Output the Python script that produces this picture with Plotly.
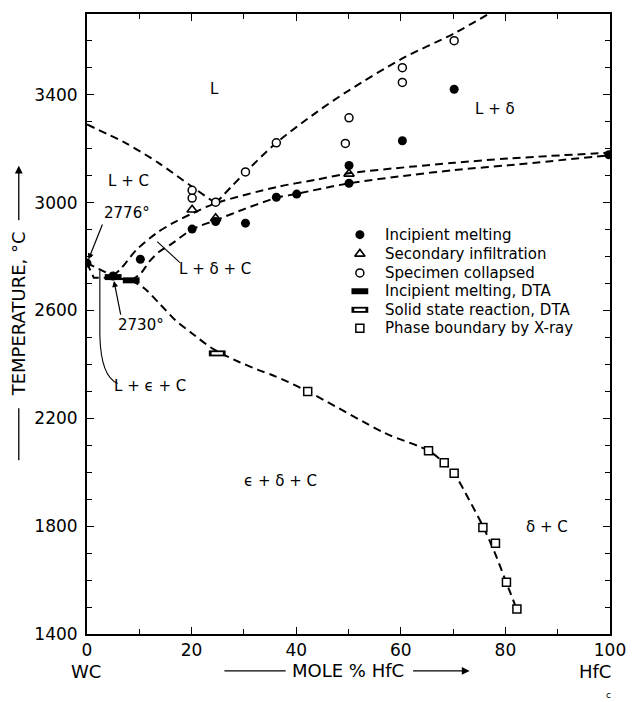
import plotly.graph_objects as go

# ---------------- data ----------------
# Incipient melting (filled circles)
inc_x = [0, 4.97, 10.2, 20.1, 24.6, 30.3, 36.2, 40.1, 50.1, 50.1, 60.3, 70.2, 99.8]
inc_T = [2776, 2728, 2790, 2902, 2930, 2924, 3020, 3032, 3072, 3138, 3230, 3421, 3178]
# Secondary infiltration (open triangles)
sec_x = [20.1, 24.6, 50.1]
sec_T = [2974, 2942, 3107]
# Specimen collapsed (open circles)
col_x = [20.1, 20.1, 24.6, 30.3, 36.2, 49.4, 50.1, 60.3, 60.3, 70.2]
col_T = [3017, 3046, 3002, 3114, 3222, 3220, 3315, 3446, 3501, 3601]
# Incipient melting, DTA (filled bars)
dta_inc_x = [5.0, 8.45]
dta_inc_T = [2724, 2712]
# Solid state reaction, DTA (open bars)
dta_ss_x = [24.9]
dta_ss_T = [2441]
# Phase boundary by X-ray (open squares)
xray_x = [42.2, 65.3, 68.3, 70.2, 75.7, 78.1, 80.2, 82.2]
xray_T = [2300, 2080, 2035, 1996, 1795, 1737, 1592, 1493]

# Phase boundaries (dashed)
liqC_x = [0, 7.5, 13.8, 20.1, 24.6]
liqC_T = [3290, 3220, 3146, 3059, 2998]
liqD_x = [24.6, 30.3, 36.2, 44, 50.1, 60.3, 70.2, 77.2]
liqD_T = [2998, 3113, 3222, 3337, 3417, 3535, 3628, 3705]
up_x = [4.97, 6.56, 9.4, 13.2, 16.3, 20.1, 24.6, 36.5, 44, 50.1, 61.7, 70.2, 80.6, 100]
up_T = [2728, 2757, 2824, 2886, 2923, 2960, 2998, 3059, 3086, 3109, 3133, 3148, 3164, 3186]
lo_x = [8.45, 10.3, 11.9, 13.8, 16.3, 20.1, 24.6, 30.3, 36.2, 40.1, 50.1, 61.7, 70.2, 80.6, 100]
lo_T = [2712, 2738, 2781, 2818, 2849, 2901, 2935, 2978, 3018, 3033, 3072, 3102, 3121, 3139, 3176]
eutA_x = [0, 4.97]
eutA_T = [2776, 2728]
eutB_x = [0, 1.3, 4.97, 8.45]
eutB_T = [2776, 2722, 2722, 2712]
sol_x = [8.45, 11, 13.8, 16.9, 20.1, 23.9, 28.3, 32.7, 36, 42.2, 57, 65.3, 68.3, 70.2, 73, 75.7, 78, 80.2, 82.2]
sol_T = [2712, 2682, 2627, 2564, 2515, 2460, 2416, 2380, 2356, 2300, 2145, 2080, 2035, 1996, 1900, 1800, 1700, 1590, 1490]

x_ticks = [0, 20, 40, 60, 80, 100]
y_ticks = [1400, 1800, 2200, 2600, 3000, 3400]

legend_names = ["Incipient melting", "Secondary infiltration", "Specimen collapsed",
                "Incipient melting, DTA", "Solid state reaction, DTA", "Phase boundary by X-ray"]

# ---------------- layout helpers ----------------
W, H = 638, 702
L, R, T, B = 87, 616, 13, 634
XR = [0, 100]
YR = [1400, 3700]
FONT = "DejaVu Sans"


def px(x):
    return (x - L) / (R - L)


def py(y):
    return (B - y) / (B - T)


def px2data(x):
    return XR[0] + (x - L) / (R - L) * (XR[1] - XR[0])


def py2data(y):
    return YR[0] + (B - y) / (B - T) * (YR[1] - YR[0])


fig = go.Figure()

dash = "8px,5px"
for xs, ys, shape in [(liqC_x, liqC_T, "spline"), (liqD_x, liqD_T, "spline"),
                      (up_x, up_T, "spline"), (lo_x, lo_T, "spline"),
                      (eutA_x, eutA_T, "linear"), (eutB_x, eutB_T, "linear"),
                      (sol_x, sol_T, "spline")]:
    fig.add_trace(go.Scatter(x=xs, y=ys, mode="lines", showlegend=False,
                             line=dict(color="black", width=2, dash=dash, shape=shape,
                                       smoothing=0.8), hoverinfo="skip"))


def add_markers(xs, ys, kind):
    if kind == "inc":
        fig.add_trace(go.Scatter(x=xs, y=ys, mode="markers", showlegend=False,
                                 marker=dict(symbol="circle", size=9, color="black")))
    elif kind == "sec":
        fig.add_trace(go.Scatter(x=xs, y=ys, mode="markers", showlegend=False,
                                 marker=dict(symbol="triangle-up-open", size=9, color="black",
                                             line=dict(width=1.6))))
    elif kind == "col":
        fig.add_trace(go.Scatter(x=xs, y=ys, mode="markers", showlegend=False,
                                 marker=dict(symbol="circle", size=8, color="white",
                                             line=dict(width=1.5, color="black"))))
    elif kind == "dta_inc":
        fig.add_trace(go.Scatter(x=xs, y=ys, mode="markers", showlegend=False,
                                 marker=dict(symbol="line-ew", size=12,
                                             line=dict(width=6, color="black"))))
    elif kind == "dta_ss":
        fig.add_trace(go.Scatter(x=xs, y=ys, mode="markers", showlegend=False,
                                 marker=dict(symbol="line-ew", size=12,
                                             line=dict(width=6, color="black"))))
        fig.add_trace(go.Scatter(x=xs, y=ys, mode="markers", showlegend=False,
                                 marker=dict(symbol="line-ew", size=8,
                                             line=dict(width=2.4, color="white"))))
    elif kind == "xray":
        fig.add_trace(go.Scatter(x=xs, y=ys, mode="markers", showlegend=False,
                                 marker=dict(symbol="square", size=8, color="white",
                                             line=dict(width=1.5, color="black"))))


add_markers(sec_x, sec_T, "sec")
add_markers(inc_x, inc_T, "inc")
add_markers(col_x, col_T, "col")
add_markers(dta_inc_x, dta_inc_T, "dta_inc")
add_markers(dta_ss_x, dta_ss_T, "dta_ss")
add_markers(xray_x, xray_T, "xray")

# ---------------- manual legend ----------------
leg_rows = [234, 253.3, 272.3, 290.7, 309.3, 327.7]
leg_sym_x = 363
leg_txt_x = 386
kinds = ["inc", "sec", "col", "dta_inc", "dta_ss", "xray"]
annotations = []
for k, yrow, name in zip(kinds, leg_rows, legend_names):
    add_markers([px2data(leg_sym_x)], [py2data(yrow)], k)
    annotations.append(dict(x=px(leg_txt_x), y=py(yrow), xref="paper", yref="paper",
                            text=name, showarrow=False, xanchor="left", yanchor="middle",
                            font=dict(size=15, family=FONT, color="black")))

# ---------------- region labels ----------------
labels = [("L", 216, 88), ("L + C", 129, 180), ("L + δ", 500, 108), ("L + δ + C", 216, 268),
          ("2776°", 127, 212), ("2730°", 142, 325), ("L + ϵ + C", 151, 386),
          ("ϵ + δ + C", 283, 481), ("δ + C", 552, 527)]
for txt, xx, yy in labels:
    annotations.append(dict(x=px(xx), y=py(yy), xref="paper", yref="paper", text=txt,
                            showarrow=False, xanchor="center", yanchor="middle",
                            font=dict(size=15, family=FONT, color="black")))

# pointer arrows to the invariant points
annotations.append(dict(x=eutA_x[0], y=eutA_T[0], xref="x", yref="y", text="", showarrow=True,
                        ax=16, ay=-40, arrowhead=2, arrowsize=1, arrowwidth=1.2,
                        standoff=4, arrowcolor="black"))
annotations.append(dict(x=eutA_x[1], y=eutA_T[1], xref="x", yref="y", text="", showarrow=True,
                        ax=8, ay=40, arrowhead=2, arrowsize=1, arrowwidth=1.2,
                        standoff=5, arrowcolor="black"))

# axis titles
annotations.append(dict(x=px(18), y=py(313), xref="paper", yref="paper",
                        text="TEMPERATURE, °C", textangle=-90, showarrow=False,
                        xanchor="center", yanchor="middle",
                        font=dict(size=18, family=FONT, color="black")))
annotations.append(dict(x=px(18), y=py(165), xref="paper", yref="paper", text="",
                        showarrow=True, ax=0, ay=56, arrowhead=2, arrowsize=1.2,
                        arrowwidth=1.3, arrowcolor="black"))
annotations.append(dict(x=px(351), y=py(671), xref="paper", yref="paper",
                        text="MOLE % HfC", showarrow=False, xanchor="center", yanchor="middle",
                        font=dict(size=18, family=FONT, color="black")))
annotations.append(dict(x=px(474), y=py(671), xref="paper", yref="paper", text="",
                        showarrow=True, ax=-58, ay=0, arrowhead=2, arrowsize=1.2,
                        arrowwidth=1.3, arrowcolor="black"))
annotations.append(dict(x=px(86), y=py(672), xref="paper", yref="paper", text="WC",
                        showarrow=False, xanchor="center", yanchor="middle",
                        font=dict(size=18, family=FONT, color="black")))
annotations.append(dict(x=px(619), y=py(672), xref="paper", yref="paper", text="HfC",
                        showarrow=False, xanchor="right", yanchor="middle",
                        font=dict(size=18, family=FONT, color="black")))
annotations.append(dict(x=px(614), y=py(695), xref="paper", yref="paper", text="c",
                        showarrow=False, xanchor="center", yanchor="middle",
                        font=dict(size=9, family=FONT, color="black")))

shapes = [
    dict(type="line", xref="paper", yref="paper", x0=px(18), x1=px(18), y0=py(408), y1=py(460),
         line=dict(color="black", width=1.3)),
    dict(type="line", xref="paper", yref="paper", x0=px(226), x1=px(288), y0=py(671), y1=py(671),
         line=dict(color="black", width=1.3)),
    # leader for L + delta + C
    dict(type="line", xref="paper", yref="paper", x0=px(181), x1=px(158), y0=py(262), y1=py(241),
         line=dict(color="black", width=1.1)),
    # leader for L + eps + C (curved)
    dict(type="path", xref="paper", yref="paper",
         path=f"M {px(100)},{py(270)} L {px(100)},{py(335)} Q {px(101)},{py(376)} {px(118)},{py(383)}",
         line=dict(color="black", width=1.1)),
]

axis_common = dict(showline=True, linecolor="black", linewidth=2, mirror="ticks",
                   ticks="inside", ticklen=7, tickwidth=1.4, tickcolor="black",
                   showgrid=False, zeroline=False,
                   tickfont=dict(size=17, family=FONT, color="black"))

fig.update_layout(
    width=W, height=H,
    margin=dict(l=L, r=W - R, t=T, b=H - B),
    paper_bgcolor="white", plot_bgcolor="white",
    showlegend=False,
    xaxis=dict(range=XR, tickvals=x_ticks, ticktext=[str(v) for v in x_ticks],
               minor=dict(dtick=10, ticks="inside", ticklen=5, tickwidth=1.2, tickcolor="black"),
               **axis_common),
    yaxis=dict(range=YR, tickvals=y_ticks, ticktext=[str(v) for v in y_ticks],
               minor=dict(dtick=100, ticks="inside", ticklen=5, tickwidth=1.2, tickcolor="black"),
               ticklabelstandoff=4, **axis_common),
    annotations=annotations,
    shapes=shapes,
    font=dict(family=FONT, color="black"),
)

fig.write_html("out.html")
